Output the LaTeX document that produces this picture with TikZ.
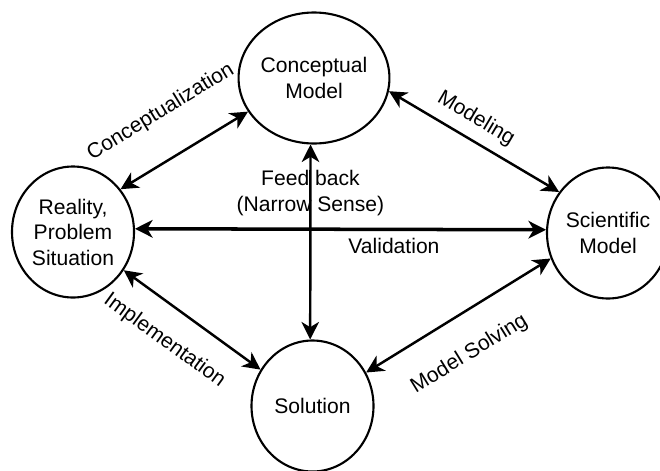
\documentclass[tikz,border=0pt]{standalone}
\usepackage{fontspec}
\setmainfont{Liberation Sans}
\usetikzlibrary{shapes.geometric,arrows.meta}
\tikzset
{
	phasenode/.style = {ellipse, draw=black, line width=1.2pt, align=center, minimum width=2.44cm, minimum height=2.62cm, inner sep=0pt, font=\fontsize{12}{14.5}\selectfont},
	linkarrow/.style = {<->, >={Stealth[length=10pt, width=10pt, inset=3pt]}, line width=1.4pt},
	validarrow/.style = {linkarrow, line width=2pt},
	linklabel/.style = {inner sep=0pt, align=center, font=\fontsize{12}{14.5}\selectfont}
}

\begin{document}
\begin{tikzpicture}
\useasboundingbox (0,0) rectangle (13.2,9.4);
\node[phasenode] (concept) at (6.28,7.84) {Conceptual\\Model};
\node[phasenode] (reality) at (1.46,4.76) {Reality,\\Problem\\Situation};
\node[phasenode] (science) at (12.16,4.74) {Scientific\\Model};
\node[phasenode] (solution) at (6.25,1.28) {Solution};
\draw[linkarrow] (reality.42) -- node[linklabel, midway, sloped, above=0.68cm] {Conceptualization} (concept.207);
\draw[linkarrow] (concept.-10) -- node[linklabel, pos=0.45, sloped, above=0.19cm] {Modeling} (science.140);
\draw[linkarrow] (reality.-37) -- node[linklabel, pos=0.44, sloped, below=0.44cm] {Implementation} (solution.145);
\draw[linkarrow] (solution.32) -- node[linklabel, pos=0.45, sloped, below=0.55cm] {Model Solving} (science.204);
\draw[linkarrow] (concept.-93) -- node[linklabel, pos=0.25] {Feed back\\(Narrow Sense)} (solution.92);
\draw[validarrow] (reality.3) -- node[linklabel, pos=0.63, below=4pt] {Validation} (science.177);
\end{tikzpicture}
\end{document}
